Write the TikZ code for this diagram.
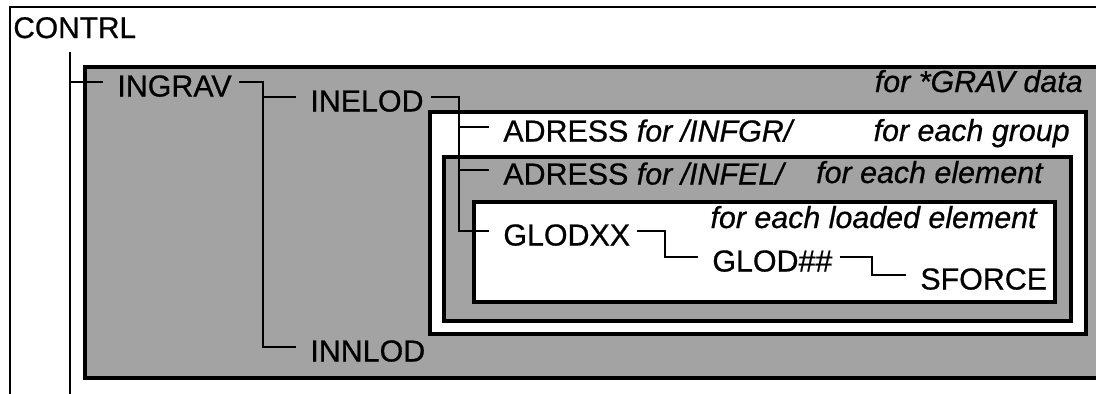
\documentclass[tikz,border=0pt]{standalone}
\usepackage{fontspec}
\setmainfont{Liberation Sans}[FakeBold=0.6]
\usetikzlibrary{calc}
\definecolor{screen}{gray}{0.64}

\tikzset{
  unit/.style={anchor=west, inner xsep=4pt, inner ysep=0pt, text height=16.5pt, text depth=0pt, font=\fontsize{17.3}{20}\selectfont},
  note/.style={anchor=base east, inner sep=0pt, font=\fontsize{17.3}{20}\selectfont\itshape},
  conn/.style={line width=1.6pt, shorten >=4pt},
  frame/.style={line width=2pt},
}

\begin{document}
\begin{tikzpicture}[x=0.02cm, y=-0.02cm]
\useasboundingbox (0,0) rectangle (1096,393);
\clip (0,0) rectangle (1096,393);
\fill[white] (0,0) rectangle (1096,393);

% CONTRL frame
\draw[line width=1.2pt] (10,420) -- (10,7) -- (1120,7);
\node[anchor=base west, inner sep=0pt, font=\fontsize{17}{20}\selectfont] (contrl) at (13,38) {CONTRL};

% nested loops
\draw[frame, fill=screen] (85,67) rectangle (1120,378);
\draw[frame, fill=white] (430,112) rectangle (1086,334);
\draw[frame, fill=screen] (444,157) rectangle (1071,321);
\draw[frame, fill=white] (474,202) rectangle (1055,302);

\node[unit] (ingrav) at (110,82) {INGRAV};
\node[unit] (inelod) at (303,97) {INELOD};
\node[unit] (innlod) at (303,347) {INNLOD};
\node[unit] (adrinfgr) at (496,127) {ADRESS \textit{for /INFGR/}};
\node[unit] (adrinfel) at (496,170) {ADRESS \textit{for /INFEL/}};
\node[unit] (glodxx) at (496,231) {GLODXX};
\node[unit] (glodnn) at (705,257) {GLOD\#\#};
\node[unit] (sforce) at (913,275) {SFORCE};

\node[note] (gravnote) at (1083,92) {for *GRAV data};
\node[note] (groupnote) at (1070,141) {for each group};
\node[note] (elemnote) at (1043,183) {for each element};
\node[note] (loadnote) at (1037,228) {for each loaded element};

% call tree
\coordinate (ctop) at (70,52);
\coordinate (gravbus) at (263,0);
\coordinate (lodbus) at (459,0);
\coordinate (xxbus) at (665,0);
\coordinate (nnbus) at (872,0);

\draw[line width=1.6pt] (ctop) -- (70,400);
\draw[conn] (ctop |- ingrav.west) -- (ingrav.west);
\draw[conn] (ingrav.east) -- (ingrav.east -| gravbus) |- (innlod.west);
\draw[conn] (gravbus |- inelod.west) -- (inelod.west);
\draw[conn] (inelod.east) -- (inelod.east -| lodbus) |- (glodxx.west);
\draw[conn] (lodbus |- adrinfgr.west) -- (adrinfgr.west);
\draw[conn] (lodbus |- adrinfel.west) -- (adrinfel.west);
\draw[conn] (glodxx.east) -- (glodxx.east -| xxbus) |- (glodnn.west);
\draw[conn] (glodnn.east) -- (glodnn.east -| nnbus) |- (sforce.west);

\end{tikzpicture}
\end{document}
